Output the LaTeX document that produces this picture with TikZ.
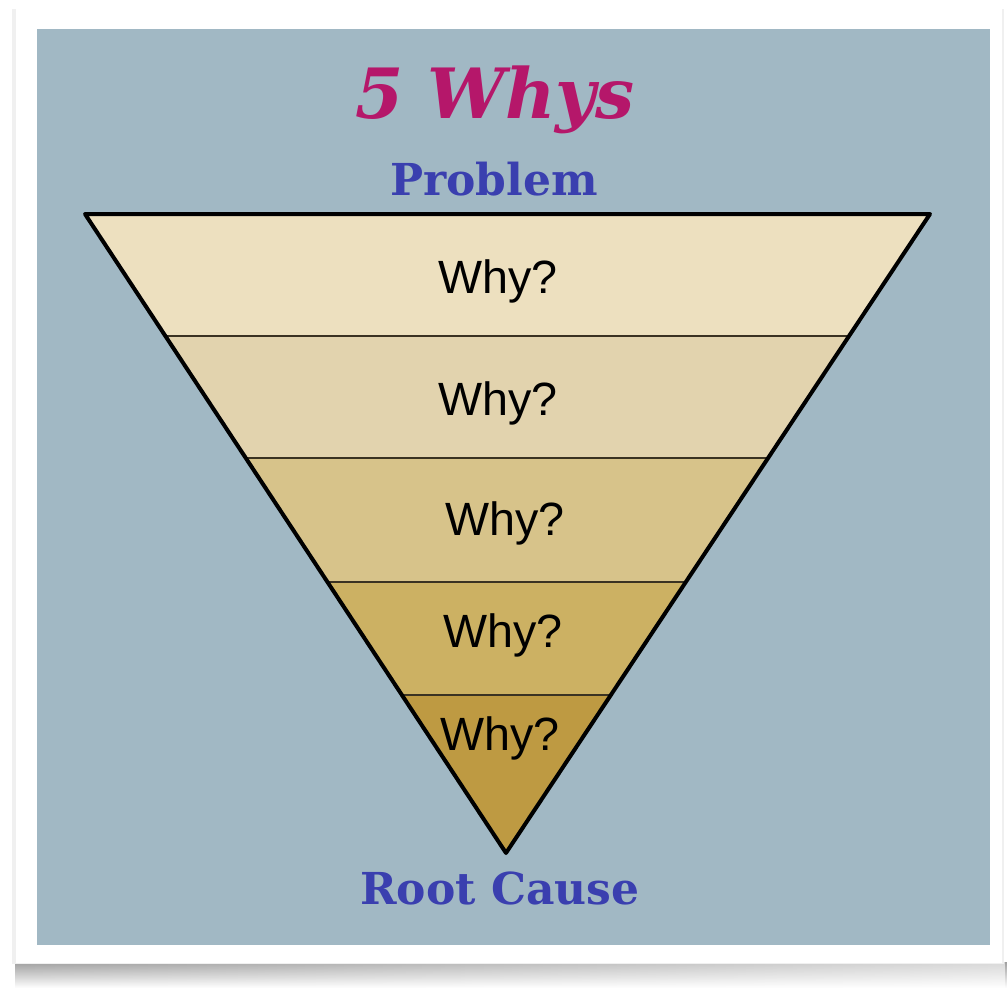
\documentclass[tikz,border=0pt]{standalone}
\usepackage{fontspec}
\setmainfont{DejaVu Serif}
\newfontfamily\whyfont{Liberation Sans}
\usetikzlibrary{calc, fadings}
\definecolor{bgblue}{HTML}{A1B8C4}
\definecolor{titlered}{HTML}{B5176A}
\definecolor{labelblue}{HTML}{3A3FAF}
\definecolor{bandA}{HTML}{EDE0BF}
\definecolor{bandB}{HTML}{E2D3AE}
\definecolor{bandC}{HTML}{D7C38A}
\definecolor{bandD}{HTML}{CCB163}
\definecolor{bandE}{HTML}{BE9A42}
\definecolor{bandline}{HTML}{3A3222}
\tikzset{
  endlabel/.style={anchor=base, text=labelblue, font=\bfseries\fontsize{33}{33}\selectfont},
  whylabel/.style={anchor=base, font=\whyfont\fontsize{35}{35}\selectfont},
}
\begin{document}
\begin{tikzpicture}[x=0.75pt, y=-0.75pt]
    \useasboundingbox (0,0) rectangle (1007,989);
    % card with its shadow
    \shade[top color=gray!75, bottom color=white] (15,962) rectangle (1007,988);
    \fill[white, fill opacity=0.6, path fading=west] (15,962) rectangle (1007,988);
    \fill[gray!12] (12,9) rectangle (1004,964);
    \fill[white] (16,7) rectangle (1002,963);
    \fill[bgblue] (37,29) rectangle (990,945);
    \coordinate (tl) at (85,214);
    \coordinate (tr) at (930,214);
    \coordinate (apex) at (506,853);
    % bands
    \foreach \a/\b/\c in {0/0.1909/bandA, 0.1909/0.3818/bandB, 0.3818/0.5759/bandC, 0.5759/0.7527/bandD, 0.7527/1/bandE} {
        \fill[\c] ($(tl)!\a!(apex)$) -- ($(tr)!\a!(apex)$) -- ($(tr)!\b!(apex)$) -- ($(tl)!\b!(apex)$) -- cycle;
    }
    \foreach \b in {0.1909, 0.3818, 0.5759, 0.7527} {
        \draw[line width=1.1pt, bandline] ($(tl)!\b!(apex)$) -- ($(tr)!\b!(apex)$);
    }
    \draw[line width=3pt, line join=round] (tl) -- (tr) -- (apex) -- cycle;
    % texts
    \node[anchor=base, text=titlered, font=\bfseries\itshape\fontsize{52}{52}\selectfont] (title) at (495,118) {5 Whys};
    \node[endlabel] (problem) at (494,195) {Problem};
    \node[endlabel] (rootcause) at (500,904) {Root Cause};
    \foreach \x/\y [count=\i] in {498/293, 498/415, 505/535, 503/647, 500/750} {
        \node[whylabel] (why\i) at (\x,\y) {Why?};
    }
\end{tikzpicture}
\end{document}
